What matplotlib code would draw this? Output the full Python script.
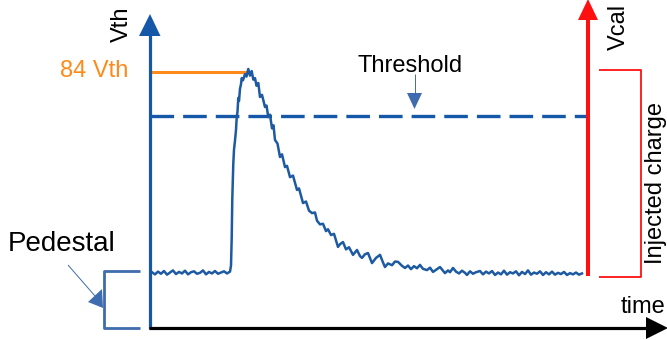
import numpy as np
import matplotlib
matplotlib.use('Agg')
import matplotlib.pyplot as plt

plt.rcParams['font.family'] = ['Liberation Sans', 'DejaVu Sans']
plt.rcParams['lines.scale_dashes'] = False

# signal levels in Vth units
PEDESTAL = 18.0
THRESHOLD = 69.5
PEAK = 84
peak_label = '84 Vth'

# sampled waveform: flat pedestal, fast rise, slow decay back to pedestal
t_base = list(range(2, 81, 3))
v_base = [18.3, 17.6, 18.5, 17.8, 18.7, 17.5, 18.2, 18.9, 17.7, 18.4, 17.9, 18.8,
          17.6, 18.3, 18.6, 17.8, 18.1, 18.9, 17.6, 18.4, 17.9, 18.7, 17.8, 18.2,
          18.6, 17.9, 18.5]

t_pulse = [81, 81.7, 82.3, 83.3, 84, 85, 86, 86.7, 87.5, 88.3, 89, 90, 91, 91.7, 93,
           95, 96.5, 98.3, 100, 101.7, 103.3, 105, 106.5, 108.3, 110, 112, 115, 116.5,
           118.3, 120, 122, 123.5, 125, 127.5, 130, 132, 135, 137, 140, 143, 147, 149,
           153, 156, 159, 162, 165, 167, 170, 173, 176, 178, 181, 184, 188, 190, 193,
           196, 199, 203, 207, 210, 212, 215, 218, 222, 226, 230, 233, 235, 238, 242,
           245, 248, 252, 255, 258, 261, 264, 267, 270, 273, 277, 280, 283, 286, 290,
           293, 295, 298, 300, 303, 306, 309, 312, 315, 317, 320, 323, 326, 330, 333, 336]
v_pulse = [20.5, 29.5, 42.5, 54.0, 58.5, 61.5, 65.0, 69.0, 71.0, 75.5, 74.5, 78.5, 80.0,
           82.0, 81.3, 83.3, 82.5, 85.0, 82.8, 84.3, 81.5, 82.0, 79.5, 80.4, 75.8, 76.5,
           72.5, 73.0, 69.2, 70.0, 65.5, 66.5, 61.7, 60.5, 56.1, 57.0, 52.8, 53.2, 49.5,
           50.0, 45.3, 45.8, 41.0, 41.5, 38.5, 37.7, 37.9, 35.2, 34.0, 34.2, 31.8, 32.4,
           30.5, 30.9, 26.6, 27.5, 28.2, 25.8, 26.5, 24.0, 25.6, 23.6, 23.0, 24.2, 24.6,
           21.3, 23.0, 24.0, 21.5, 20.0, 21.2, 20.6, 21.8, 21.7, 20.4, 19.7, 20.5, 19.3,
           20.3, 19.6, 20.7, 19.4, 19.0, 19.8, 18.4, 19.1, 20.0, 18.8, 18.0, 18.9, 18.3,
           19.7, 18.5, 17.9, 18.8, 18.1, 17.4, 18.6, 17.8, 18.3, 18.7, 17.6, 18.5]

t_tail = list(range(339, 434, 3))
v_tail = [17.9, 18.7, 17.4, 18.2, 17.6, 18.8, 17.5, 18.3, 17.9, 18.6, 17.3, 18.4,
          17.7, 18.9, 17.5, 18.2, 17.8, 18.6, 17.4, 18.3, 17.6, 18.5, 17.5, 18.1,
          17.7, 18.4, 17.4, 18.0, 17.6, 18.2, 17.5, 17.9]
t_peak = 97  # where the peak marker ends

BLUE = '#1558a8'
WAVE = '#1d5aa2'
LIGHT = '#3f6cae'
RED = '#ff1010'
ORANGE = '#ff8a1a'

# pixel scale of the sketch: origin at (150, 328), peak level at y=72
S = (328 - 72) / PEAK


def P(x, y):
    return np.asarray(x, dtype=float) - 150, (328 - np.asarray(y, dtype=float)) / S


fig = plt.figure(figsize=(6.67, 3.40), dpi=100)
ax = fig.add_axes([0, 0, 1, 1])
ax.set_xlim(-150, 517)
ax.set_ylim(-12 / S, 328 / S)
ax.axis('off')


def seg(xs, ys, **kw):
    ax.plot(*P(xs, ys), solid_capstyle='butt', **kw)


def tri(xs, ys, color):
    ax.fill(*P(xs, ys), color=color, lw=0, zorder=5)


# threshold
x_end = P(588, 0)[0]
ax.plot([0, x_end], [THRESHOLD, THRESHOLD], color=BLUE, lw=2.4,
        dashes=(17, 6.5), dash_capstyle='butt', zorder=2)

# peak marker
ax.plot([1, t_peak], [PEAK, PEAK], color=ORANGE, lw=2.2, solid_capstyle='butt', zorder=3)

# waveform
t_all = t_base + t_pulse + t_tail
v_all = v_base + v_pulse + v_tail
ax.plot(t_all, v_all, color=WAVE, lw=1.8, zorder=4)

# Vth axis
seg([150, 150], [329, 30], color=BLUE, lw=2.3, zorder=6)
tri([139, 160.5, 150], [36, 36, 14], BLUE)

# time axis
seg([148.5, 650], [328, 328], color='black', lw=2.3, zorder=6)
tri([646, 646, 668], [317, 339, 328], 'black')

# Vcal axis
seg([588, 588], [276, 15], color=RED, lw=2.9, zorder=6)
tri([578, 598, 588], [20, 20, -1], RED)

# injected charge bracket
seg([599, 641, 641, 599], [70, 70, 277, 277], color=RED, lw=1.3, zorder=6)

# pedestal bracket
seg([140, 103.5, 103.5, 140], [270.5, 270.5, 327.5, 327.5], color=LIGHT, lw=2.0, zorder=6)
seg([68, 95], [265, 296], color=LIGHT, lw=0.7)
tri([88, 102, 103], [302, 289, 308], LIGHT)

# threshold pointer
seg([414.5, 414.5], [74, 95], color=LIGHT, lw=0.7)
tri([407, 422, 414.5], [93, 93, 109], LIGHT)

# labels
fs = 17
ax.text(*P(128, 24), 'Vth', fontsize=fs, rotation=90, rotation_mode='anchor',
        ha='center', va='baseline')
ax.text(*P(625, 27), 'Vcal', fontsize=fs, rotation=90, rotation_mode='anchor',
        ha='center', va='baseline')
ax.text(*P(662, 183.5), 'Injected charge', fontsize=fs, rotation=90,
        rotation_mode='anchor', ha='center', va='baseline')
ax.text(*P(621, 313), 'time', fontsize=fs, ha='left', va='baseline')
ax.text(*P(410.5, 72), 'Threshold', fontsize=fs, ha='center', va='baseline')
ax.text(*P(128, 77), peak_label, fontsize=fs, color=ORANGE, ha='right', va='baseline')
ax.text(*P(8, 251), 'Pedestal', fontsize=20, ha='left', va='baseline')

fig.savefig('out.png', dpi=100)
